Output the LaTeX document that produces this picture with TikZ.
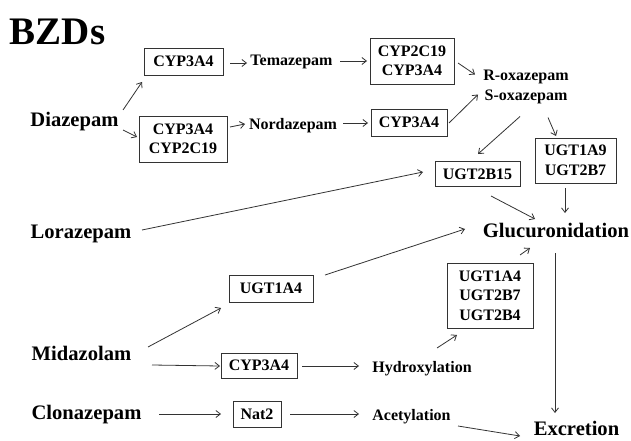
\documentclass[tikz,border=0pt]{standalone}
\usepackage{fontspec}
\setmainfont{Liberation Serif}
\usetikzlibrary{arrows.meta,calc}
\begin{document}
\begin{tikzpicture}[x=1pt,y=-1pt,
  box/.style={draw=black!80, line width=0.8pt, inner sep=0pt, align=center,
    font=\fontsize{16}{19.5}\selectfont\bfseries},
  small/.style={inner sep=0pt, text height=10.6pt, text depth=0pt,
    font=\fontsize{16}{19.5}\selectfont\bfseries},
  big/.style={inner sep=0pt, text height=13.7pt, text depth=0pt,
    font=\fontsize{20.6}{24}\selectfont\bfseries},
  arr/.style={draw=black!80, line width=0.8pt, -{Straight Barb[length=4.5pt,width=7pt]}},
  ln/.style={draw=black!80, line width=0.8pt}]
\useasboundingbox (0,0) rectangle (631,441);
\fill[white] (0,0) rectangle (631,441);
% title
\node[inner sep=0pt, font=\fontsize{39}{40}\selectfont\bfseries, text height=26pt, text depth=0pt] (bzd) at (57.5,31.5) {BZDs};
% big labels
\node[big] (diaz) at (74.5,119.5) {Diazepam};
\node[big] (lora) at (81,231.5) {Lorazepam};
\node[big] (mida) at (81.5,354) {Midazolam};
\node[big] (clon) at (86.5,413) {Clonazepam};
\node[big] (gluc) at (556,230.5) {Glucuronidation};
\node[big] (excr) at (576.5,428.5) {Excretion};
% small labels
\node[small] (tema) at (291.5,60) {Temazepam};
\node[small] (norda) at (293,124) {Nordazepam};
\node[small] (hydro) at (422,367.5) {Hydroxylation};
\node[small] (acet) at (411.5,415.5) {Acetylation};
\node[inner sep=0pt, align=center, font=\fontsize{16}{20}\selectfont\bfseries] (oxaz) at (526,86.5) {R-oxazepam\\S-oxazepam};
% boxes
\node[box, minimum width=79pt, minimum height=27pt] (cypA) at (183.5,61.5) {CYP3A4};
\node[box, minimum width=88pt, minimum height=46pt] (cypB) at (183,139) {CYP3A4\\CYP2C19};
\node[box, minimum width=84pt, minimum height=46pt] (c2c19) at (412,61) {CYP2C19\\CYP3A4};
\node[box, minimum width=76pt, minimum height=27pt] (cypC) at (409,122.5) {CYP3A4};
\node[box, minimum width=81pt, minimum height=45pt] (u1a9) at (575.5,160.5) {UGT1A9\\UGT2B7};
\node[box, minimum width=85pt, minimum height=25pt] (u2b15) at (477.5,174) {UGT2B15};
\node[box, minimum width=84pt, minimum height=27pt] (u1a4) at (271,288.5) {UGT1A4};
\node[box, minimum width=86pt, minimum height=65pt] (u3) at (490,295.5) {UGT1A4\\UGT2B7\\UGT2B4};
\node[box, minimum width=76pt, minimum height=25pt] (cypD) at (259,365.5) {CYP3A4};
\node[box, minimum width=48pt, minimum height=26pt] (nat) at (257,414) {Nat2};
% connectors
\draw[arr] ($(diaz)+(48.5,-9.5)$) -- ($(cypA)+(-41.5,20.5)$);
\draw[arr] ($(diaz)+(48.5,10.5)$) -- ($(cypB)+(-46,-2)$);
\draw[arr] ($(cypA)+(46.5,1.5)$) -- ($(tema)+(-44.5,3)$);
\draw[arr] ($(tema)+(48.5,1)$) -- ($(c2c19)+(-45,0)$);
\draw[arr] ($(c2c19)+(46,2)$) -- ($(oxaz)+(-51,-12)$);
\draw[arr] ($(cypB)+(47,-12)$) -- ($(norda)+(-48,0)$);
\draw[arr] ($(norda)+(50,-1)$) -- ($(cypC)+(-41,0.5)$);
\draw[arr] ($(cypC)+(40,0.5)$) -- ($(oxaz)+(-48,8)$);
\draw[arr] ($(oxaz)+(-6,30)$) -- ($(u2b15)+(0.5,-20)$);
\draw[arr] ($(oxaz)+(22,31)$) -- ($(u1a9)+(-19.5,-24.5)$);
\draw[arr] ($(lora)+(61,-1.5)$) -- ($(u2b15)+(-54.5,-2)$);
\draw[arr] ($(u2b15)+(13.5,22)$) -- ($(gluc)+(-21,-11.5)$);
\draw[arr] ($(u1a9)+(-10.5,27.5)$) -- ($(gluc)+(9,-17.5)$);
\draw[arr] ($(u1a4)+(54,-13.5)$) -- ($(gluc)+(-91,-1.5)$);
\draw[arr] ($(u3)+(30,-40.5)$) -- ($(gluc)+(-26,17.5)$);
\draw[arr] ($(gluc)+(-1,22.5)$) -- ($(excr)+(-21.5,-15.5)$);
\draw[arr] ($(mida)+(66.5,-7)$) -- ($(u1a4)+(-50,19.5)$);
\draw[arr] ($(mida)+(70.5,11)$) -- ($(cypD)+(-39,0.5)$);
\draw[arr] ($(cypD)+(43,0.5)$) -- ($(hydro)+(-63,-1.5)$);
\draw[arr] ($(hydro)+(15,-19.5)$) -- ($(u3)+(-33,39.5)$);
\draw[arr] ($(clon)+(72.5,1)$) -- ($(nat)+(-36,0)$);
\draw[arr] ($(nat)+(33,0)$) -- ($(acet)+(-52.5,-1.5)$);
\draw[arr] ($(acet)+(46.5,10.5)$) -- ($(excr)+(-56.5,7.5)$);
\end{tikzpicture}
\end{document}
